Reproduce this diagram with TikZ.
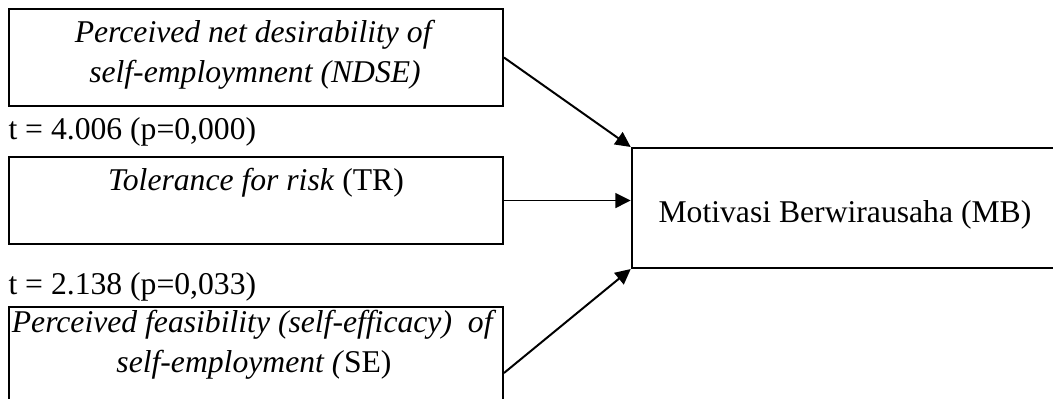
\documentclass[tikz,border=0pt]{standalone}
\usepackage{fontspec}
\setmainfont{Liberation Serif}
\usetikzlibrary{arrows.meta,positioning,calc}

\begin{document}
\begin{tikzpicture}[x=0.379pt, y=-0.379pt,
    box/.style={draw, line width=0.75pt, inner sep=0pt},
    txt/.style={inner sep=0pt, align=center, font=\fontsize{12}{15.2}\selectfont},
    arr/.style={line width=0.75pt, -{Triangle[length=5.8pt, width=5.6pt]}}]
    \useasboundingbox (0,0) rectangle (1053,398);
    \clip (0,0) rectangle (1053,398);
    % input boxes
    \node[box, minimum width=187.2pt, minimum height=36.8pt] (ndse) at (256,57.5) {};
    \node[box, minimum width=187.2pt, minimum height=33pt] (tr) at (256,200.5) {};
    \node[box, minimum width=187.2pt, minimum height=50pt] (se) at (256,373) {};
    \node[box, minimum width=170pt, minimum height=45.5pt] (mb) at (856,208) {};
    % texts
    \node[txt] (ndsetxt) at (255,55) {\textit{Perceived net desirability of}\\ \textit{self-employmnent (NDSE)}};
    \node[txt] (trtxt) at (256,183) {\textit{Tolerance for risk} (TR)};
    \node[txt] (setxt) at (254,345) {\textit{Perceived feasibility (self-efficacy)\ \ of}\\ \textit{self-employment (}SE)};
    \node[txt, anchor=west] (mbtxt) at (658,215) {Motivasi Berwirausaha (MB)};
    \node[txt, anchor=west] (t1) at (8,132) {t = 4.006 (p=0,000)};
    \node[txt, anchor=west] (t2) at (8,287) {t = 2.138 (p=0,033)};
    % paths
    \draw[arr] (ndse.east) -- (mb.north west);
    \draw[arr] (tr.east) -- (tr.east -| mb.west);
    \draw[arr] (se.east) -- (mb.south west);
\end{tikzpicture}
\end{document}
